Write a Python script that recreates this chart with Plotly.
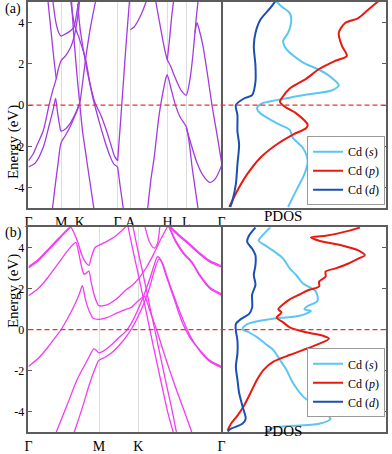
import plotly.graph_objects as go

# ---------------- Panel (a) band structure: k (path distance), E (eV) ----------------
A_TICKS_K = [0, 33.3, 52.3, 91, 104, 142, 161, 197]
A_TICKS_T = ["Γ", "M", "K", "Γ", "A", "H", "L", "Γ"]

a1_k = [0, 7, 15, 21, 25.5, 27.7, 29.5, 31.5, 33.3, 38, 43, 48, 52.3]
a1_e = [-3.0, -2.8, -2.06, -1.0, -0.15, 0.33, -0.3, -0.9, -1.26, -1.15, -0.85, -0.4, 0.1]
a2_k = [0, 5, 10, 15, 21, 25, 28.3, 30.5, 33.3, 38, 43, 47, 50, 52]
a2_e = [-2.7, -2.35, -1.8, -1.26, 0.0, 0.75, 1.27, 1.75, 2.15, 2.4, 2.8, 3.4, 4.2, 5.0]
a3_k = [20, 23, 26, 28.3]
a3_e = [5.0, 3.6, 2.2, 1.3]
a4_k = [24.5, 27, 30, 33.3, 38, 43, 48, 52.3, 55, 58.3, 63, 68.3]
a4_e = [-5.0, -4.0, -2.9, -1.82, -1.45, -1.0, -0.45, 0.1, 1.0, 2.23, 3.7, 5.0]
a5_k = [44, 46, 48, 50, 52.3, 55, 58, 62, 66.7]
a5_e = [5.0, 3.5, 2.3, 1.2, 0.1, -1.2, -2.2, -3.5, -5.0]
a6_k = [25, 28, 31, 33.3, 37, 43, 46.7, 49, 51]
a6_e = [5.0, 4.0, 3.5, 3.35, 3.43, 3.6, 3.82, 4.4, 5.0]
a7_k = [91, 88, 84, 79, 74, 68, 63, 58.3, 52, 47.5, 45, 43.3]
a7_e = [-2.7, -2.5, -1.9, -1.15, -0.5, 0.1, 1.0, 2.23, 3.2, 3.8, 4.4, 5.0]
a8_k = [91, 87, 83, 78, 73, 69, 65, 61, 57, 53, 50]
a8_e = [-3.0, -2.85, -2.45, -1.75, -0.95, -0.25, 0.5, 1.4, 2.4, 3.6, 4.9]
a9_k = [91, 93.5, 96.7]
a9_e = [-3.0, -3.9, -5.0]
a10_k = [91, 94, 97, 100, 103]
a10_e = [-2.7, -0.8, 1.2, 3.2, 5.0]
a11_k = [104, 108, 112, 116, 120]
a11_e = [3.65, 3.8, 4.1, 4.5, 5.0]
a12_k = [121.7, 125, 128.3, 131, 133.3, 136, 138.3, 140.5, 141.7, 145, 150, 155, 161, 164, 167, 170, 173]
a12_e = [-5.0, -3.6, -2.55, -1.4, -0.5, 0.3, 0.88, 1.35, 1.47, 0.9, 0.0, -0.6, -1.04, -1.8, -3.0, -4.0, -5.0]
a13_k = [161, 166, 172, 178, 185, 191, 197]
a13_e = [-1.1, -1.9, -2.8, -3.4, -3.75, -3.55, -2.95]
a14_k = [130, 135, 139, 141.7, 145, 150, 156, 161, 165, 168, 171, 173]
a14_e = [5.0, 3.7, 2.7, 2.2, 1.9, 1.3, 0.7, 0.48, 1.3, 2.5, 4.1, 5.0]
a15_k = [141.7, 144, 146, 148]
a15_e = [2.2, 3.2, 4.2, 5.0]
a16_k = [170, 172, 174, 178, 183, 187.3, 192, 197]
a16_e = [3.5, 4.0, 3.7, 2.9, 1.4, 0.0, -1.3, -2.75]

# ---------------- Panel (b) band structure ----------------
B_TICKS_K = [0, 72, 112, 197]
B_TICKS_T = ["Γ", "M", "K", "Γ"]

b1_k = [0, 10, 20, 30, 38, 43.3, 45, 50, 54, 58, 61.7, 64, 68, 71.7, 80, 90, 99]
b1_e = [3.0, 3.35, 3.85, 4.35, 4.75, 4.98, 4.85, 4.3, 3.7, 3.3, 3.13, 3.5, 4.0, 4.1, 4.3, 4.6, 5.0]
b1b_k = [0, 10, 20, 30, 38, 43.3]
b1b_e = [3.06, 3.41, 3.91, 4.41, 4.81, 5.04]
b2_k = [0, 10, 20, 30, 40, 48.3, 51, 54, 56.7, 59, 61.7, 64, 67, 70, 71.7, 80, 90, 100, 105, 113, 120, 128, 135, 141.7]
b2_e = [1.65, 2.0, 2.55, 3.2, 3.85, 4.25, 3.8, 3.1, 2.7, 2.75, 2.85, 2.3, 1.7, 1.3, 1.16, 1.2, 1.5, 1.95, 2.12, 2.52, 3.0, 3.7, 4.4, 5.0]
b3_k = [0, 10, 20, 27, 33.3, 40, 47, 52, 55, 58, 62, 66, 71.7, 80, 90, 100, 105, 112, 118.3, 124, 130, 140, 150, 160, 166.7]
b3_e = [-1.8, -1.4, -0.85, -0.4, 0.0, 0.55, 1.2, 1.75, 2.14, 1.5, 0.9, 0.55, 0.5, 0.58, 0.8, 1.0, 1.08, 1.4, 1.62, 0.9, 0.1, -1.4, -2.8, -4.1, -5.0]
b4_k = [28.3, 40, 50, 60, 66.7, 69, 71.7, 78, 85, 92, 100, 106, 112, 118, 124, 128, 131.7, 135, 140, 145, 150, 156.7, 165, 175, 185, 197]
b4_e = [-5.0, -3.6, -2.4, -1.5, -0.94, -1.0, -1.13, -1.0, -0.73, -0.4, -0.05, 0.4, 1.0, 1.7, 2.5, 3.1, 3.55, 3.4, 2.7, 2.0, 1.3, 0.38, -0.4, -1.0, -1.5, -1.8]
b5_k = [46.7, 55, 62, 68, 71.7, 78, 85, 92, 100, 106, 112, 118, 124, 128, 133.3, 137, 142, 148, 155, 165, 175, 185, 197]
b5_e = [-5.0, -3.8, -2.7, -1.9, -1.5, -1.35, -1.13, -0.8, -0.33, 0.1, 0.65, 1.3, 2.1, 2.8, 3.45, 3.2, 2.5, 1.7, 0.8, -0.3, -1.05, -1.55, -1.85]
b6_k = [101.7, 106, 112, 120, 128.3, 136, 142, 148.3]
b6_e = [5.0, 4.0, 2.7, 0.9, -1.0, -2.7, -4.0, -5.1]
b7_k = [106.7, 111, 117, 124, 133.3, 140, 146, 151]
b7_e = [5.0, 4.0, 2.7, 1.1, -1.0, -2.5, -3.8, -5.0]
b8_k = [144, 155, 165, 173.3, 185, 197]
b8_e = [5.0, 4.5, 4.1, 3.73, 3.3, 3.05]
b8b_e = [5.06, 4.56, 4.16, 3.79, 3.36, 3.11]
b9_k = [143.3, 150, 158, 166.7, 175, 185, 197]
b9_e = [5.0, 4.3, 3.7, 3.25, 2.6, 2.0, 1.68]
b9b_e = [5.06, 4.36, 3.76, 3.31, 2.66, 2.06, 1.74]
b10_k = [119, 123.3, 128.3, 131.7, 134]
b10_e = [5.0, 4.29, 3.97, 4.2, 5.0]

# ---------------- PDOS (arbitrary units) ----------------
pa_s_x = [56.3, 61.3, 69.7, 71.3, 68, 63, 66.3, 83, 98, 109.7, 119.7, 113, 83, 56.3, 41.3, 36.3, 39.7, 56.3, 69.7, 73, 83, 88, 84.7, 78, 71.3, 68]
pa_s_e = [5.02, 4.78, 4.46, 4.14, 3.5, 3.11, 2.71, 2.07, 1.75, 1.43, 0.96, 0.72, 0.48, 0.24, 0.08, -0.16, -0.4, -0.88, -1.2, -1.59, -2.07, -2.71, -3.35, -3.98, -4.62, -4.94]
pa_p_x = [159.7, 149.7, 139.7, 126.3, 119.7, 123, 128, 116.3, 99.7, 86.3, 69.7, 61.3, 59.7, 64.7, 76.3, 88, 86.3, 73, 56.3, 39.7, 26.3, 16.3, 8]
pa_p_e = [5.02, 4.62, 4.22, 3.98, 3.5, 2.87, 2.39, 2.15, 1.75, 1.27, 0.8, 0.32, 0.16, -0.08, -0.4, -0.96, -1.12, -1.43, -1.91, -2.55, -3.35, -4.14, -4.94]
pa_d_x = [54.7, 49.7, 39.7, 34.7, 33, 34.7, 34.7, 31.3, 23, 14.7, 16.3, 16.3, 18, 16.3, 14.7, 11.3, 9]
pa_d_e = [5.02, 4.7, 4.14, 3.5, 2.87, 1.91, 1.12, 0.48, 0.32, 0.0, -0.48, -1.27, -1.91, -2.87, -3.82, -4.62, -4.94]

pb_s_x = [49.7, 43, 38, 44.7, 54.7, 63, 69.7, 76.3, 83, 96.3, 98, 88, 84.7, 91.3, 79.7, 49.7, 26.3, 21.3, 28, 36.3, 44.7, 53, 59.7, 66.3, 73, 83, 99.7, 111.3, 99.7, 56.3, 46.3]
pb_s_e = [4.97, 4.65, 4.33, 4.1, 3.78, 3.46, 2.98, 2.66, 2.26, 1.86, 1.39, 1.15, 0.99, 0.91, 0.67, 0.51, 0.27, 0.03, -0.13, -0.37, -0.69, -1.0, -1.48, -1.96, -2.6, -3.24, -3.87, -4.35, -4.59, -4.75, -4.91]
pb_p_x = [141.3, 129.7, 106.3, 91.3, 99.7, 123, 139.7, 146.3, 139.7, 129.7, 116.3, 106.3, 106.3, 99.7, 99.7, 89.7, 79.7, 69.7, 63, 58, 61.3, 56.3, 63, 69.7, 86.3, 103, 109.7, 96.3, 83, 69.7, 53, 43, 36.3, 29.7, 23, 16.3, 9.7, 6.3]
pb_p_e = [4.97, 4.81, 4.57, 4.49, 4.33, 4.1, 3.86, 3.62, 3.46, 3.22, 2.98, 2.82, 2.58, 2.34, 2.1, 1.94, 1.71, 1.47, 1.23, 0.99, 0.83, 0.59, 0.35, 0.11, -0.13, -0.29, -0.45, -0.76, -1.0, -1.24, -1.56, -1.96, -2.44, -3.08, -3.71, -4.19, -4.59, -4.91]
pb_d_x = [34.7, 28, 26.3, 31.3, 34.7, 34.7, 33, 34.7, 31.3, 31.3, 28, 19.7, 14.7, 14.7, 16.3, 16.3, 14.7, 16.3, 18, 21.3, 24.7, 21.3, 9.7, 6.3]
pb_d_e = [4.97, 4.57, 4.26, 3.94, 3.62, 3.14, 2.66, 2.18, 1.71, 1.07, 0.75, 0.51, 0.27, -0.05, -0.53, -1.16, -1.8, -2.44, -3.08, -3.71, -4.35, -4.59, -4.83, -4.96]

Y_TICKS = [4, 2, 0, -2, -4]
Y_TEXT = ["4", "2", "0", "-2", "-4"]
LEGEND_NAMES = ["Cd (<i>s</i>)", "Cd (<i>p</i>)", "Cd (<i>d</i>)"]

# ---------------- styles ----------------
W, H = 392, 454
FONT = "Liberation Serif"
COL_A = "#a23be0"
COL_B = "#f23cf0"
COL_S = "#5cc6f2"
COL_P = "#e8190f"
COL_D = "#1c4fb3"
FRAME = "#5c5c5c"

def px(v):
    return v / W

def py(v):
    return 1 - v / H

fig = go.Figure()

bands_a = [(a1_k, a1_e), (a2_k, a2_e), (a3_k, a3_e), (a4_k, a4_e), (a5_k, a5_e), (a6_k, a6_e),
           (a7_k, a7_e), (a8_k, a8_e), (a9_k, a9_e), (a10_k, a10_e), (a11_k, a11_e),
           (a12_k, a12_e), (a13_k, a13_e), (a14_k, a14_e), (a15_k, a15_e), (a16_k, a16_e)]
bands_b = [(b1_k, b1_e), (b1b_k, b1b_e), (b2_k, b2_e), (b3_k, b3_e), (b4_k, b4_e), (b5_k, b5_e),
           (b6_k, b6_e), (b7_k, b7_e), (b8_k, b8_e), (b8_k, b8b_e), (b9_k, b9_e), (b9_k, b9b_e),
           (b10_k, b10_e)]

for k, e in bands_a:
    fig.add_trace(go.Scatter(x=k, y=e, mode="lines", xaxis="x", yaxis="y", showlegend=False,
                             line=dict(color=COL_A, width=1.3, shape="spline", smoothing=0.7),
                             hoverinfo="skip"))
for k, e in bands_b:
    fig.add_trace(go.Scatter(x=k, y=e, mode="lines", xaxis="x3", yaxis="y3", showlegend=False,
                             line=dict(color=COL_B, width=1.3, shape="spline", smoothing=0.7),
                             hoverinfo="skip"))

pd_a = [(pa_s_x, pa_s_e, COL_S), (pa_p_x, pa_p_e, COL_P), (pa_d_x, pa_d_e, COL_D)]
pd_b = [(pb_s_x, pb_s_e, COL_S), (pb_p_x, pb_p_e, COL_P), (pb_d_x, pb_d_e, COL_D)]
for (x, e, c), name in zip(pd_a, LEGEND_NAMES):
    fig.add_trace(go.Scatter(x=x, y=e, mode="lines", xaxis="x2", yaxis="y2", name=name,
                             legend="legend",
                             line=dict(color=c, width=2, shape="spline", smoothing=0.8)))
for (x, e, c), name in zip(pd_b, LEGEND_NAMES):
    fig.add_trace(go.Scatter(x=x, y=e, mode="lines", xaxis="x4", yaxis="y4", name=name,
                             legend="legend2",
                             line=dict(color=c, width=2, shape="spline", smoothing=0.8)))

band_x_dom = [px(25), px(222)]
pdos_x_dom = [px(222), px(390)]
top_y_dom = [py(211), py(2)]
bot_y_dom = [py(438), py(230)]

def band_xaxis(dom, anchor, tv, tt):
    return dict(domain=dom, anchor=anchor, range=[0, 197], tickvals=tv, ticktext=tt,
                showgrid=True, gridcolor="#dedede", gridwidth=1, zeroline=False,
                showline=True, linecolor=FRAME, linewidth=1.5, mirror=True, ticks="",
                tickfont=dict(family=FONT, size=14, color="black"))

def band_yaxis(dom, anchor):
    return dict(domain=dom, anchor=anchor, range=[-5, 5], tickvals=Y_TICKS, ticktext=Y_TEXT,
                showgrid=False, zeroline=False, showline=True, linecolor=FRAME, linewidth=1.5,
                mirror=True, ticks="inside", ticklen=4, tickcolor=FRAME,
                tickfont=dict(family=FONT, size=12, color="black"))

def pdos_xaxis(dom, anchor):
    return dict(domain=dom, anchor=anchor, range=[0, 168], showgrid=False, zeroline=False,
                showline=True, linecolor=FRAME, linewidth=1.5, mirror=True, ticks="",
                showticklabels=False)

def pdos_yaxis(dom, anchor):
    return dict(domain=dom, anchor=anchor, range=[-5, 5], tickvals=Y_TICKS, side="right",
                showgrid=False, zeroline=False, showline=True, linecolor=FRAME, linewidth=1.5,
                mirror=False, ticks="inside", ticklen=4, tickcolor=FRAME, showticklabels=False)

legend_style = dict(bgcolor="white", bordercolor="#9a9a9a", borderwidth=1,
                    font=dict(family=FONT, size=12, color="black"), itemwidth=30,
                    xanchor="right", yanchor="top", tracegroupgap=0)

fig.update_layout(
    width=W, height=H, margin=dict(l=0, r=0, t=0, b=0),
    paper_bgcolor="white", plot_bgcolor="white",
    font=dict(family=FONT, color="black"),
    xaxis=band_xaxis(band_x_dom, "y", A_TICKS_K, A_TICKS_T),
    yaxis=band_yaxis(top_y_dom, "x"),
    xaxis2=pdos_xaxis(pdos_x_dom, "y2"),
    yaxis2=pdos_yaxis(top_y_dom, "x2"),
    xaxis3=band_xaxis(band_x_dom, "y3", B_TICKS_K, B_TICKS_T),
    yaxis3=band_yaxis(bot_y_dom, "x3"),
    xaxis4=pdos_xaxis(pdos_x_dom, "y4"),
    yaxis4=pdos_yaxis(bot_y_dom, "x4"),
    legend=dict(x=px(389), y=py(138), **legend_style),
    legend2=dict(x=px(389), y=py(353), **legend_style),
)

for yref in ["y", "y3"]:
    fig.add_shape(type="line", xref="paper", yref=yref, x0=px(25), x1=px(390), y0=0, y1=0,
                  line=dict(color="#ee3030", width=1.2, dash="5px,3px"))

ann = dict(showarrow=False, font=dict(family=FONT, size=15, color="black"))
lab = dict(showarrow=False, font=dict(family=FONT, size=14, color="black"))
fig.add_annotation(x=0, y=py(0), xref="paper", yref="paper", text="(a)",
                   xanchor="left", yanchor="top", borderpad=0, **lab)
fig.add_annotation(x=0, y=py(227), xref="paper", yref="paper", text="(b)",
                   xanchor="left", yanchor="top", borderpad=0, **lab)
fig.add_annotation(x=0, y=py(106), xref="paper", yref="paper", text="Energy (eV)",
                   textangle=-90, xanchor="left", borderpad=0, **ann)
fig.add_annotation(x=0, y=py(334), xref="paper", yref="paper", text="Energy (eV)",
                   textangle=-90, xanchor="left", borderpad=0, **ann)
fig.add_annotation(x=px(306), y=py(219), xref="paper", yref="paper", text="PDOS", **ann)
fig.add_annotation(x=px(306), y=py(447), xref="paper", yref="paper", text="PDOS", **ann)

fig.write_html("out.html", config={"displayModeBar": False},
               post_script="document.body.style.margin='0';document.body.style.overflow='hidden';")
